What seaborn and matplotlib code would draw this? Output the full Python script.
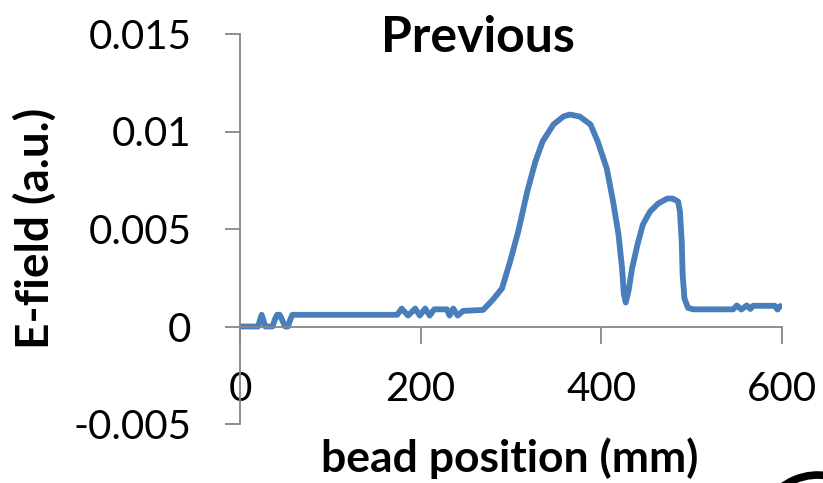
import numpy as np
import pandas as pd
import matplotlib
matplotlib.use("Agg")
import matplotlib.pyplot as plt
import seaborn as sns
from matplotlib.patches import Arc

pos_mm = [0, 20, 22, 24, 26, 28, 36, 39, 41, 44, 47, 50, 53, 56, 58,
          174, 179, 186, 194, 199, 205, 210, 215, 229, 232, 236, 241, 247, 269,
          271, 280, 290, 299, 308, 318, 327, 335, 347, 358, 365, 376, 388, 396,
          406, 413, 419, 423, 425, 427, 430, 434, 440, 446, 454, 463, 473, 479,
          485, 487, 489, 490, 492, 496, 502,
          546, 550, 555, 561, 565, 568, 592, 595, 598]
efield = [0, 0, 0.0003, 0.0006, 0.0003, 0, 0, 0.0004, 0.0006, 0.0006, 0.0003, 0, 0, 0.0004, 0.0006,
          0.0006, 0.00092, 0.00056, 0.00092, 0.00056, 0.00092, 0.00056, 0.00088, 0.00088, 0.00056, 0.00092, 0.00056, 0.0008, 0.00085,
          0.00094, 0.00138, 0.00195, 0.00333, 0.00487, 0.00692, 0.00846, 0.00949, 0.01036, 0.01077, 0.01087, 0.01077, 0.01036, 0.00949,
          0.0081, 0.00641, 0.00472, 0.00297, 0.00164, 0.00123, 0.0018, 0.00297, 0.0042, 0.00523, 0.0059, 0.00631, 0.00656, 0.00656,
          0.00641, 0.0059, 0.00436, 0.00267, 0.00144, 0.00095, 0.00088,
          0.00088, 0.00108, 0.00087, 0.00108, 0.0009, 0.00106, 0.00106, 0.00087, 0.00105]

df = pd.DataFrame({"pos": pos_mm, "field": efield})

sns.set_theme(style="white")
plt.rcParams["font.family"] = ["Lato", "DejaVu Sans"]

fig = plt.figure(figsize=(8.23, 4.83), dpi=100)
ax = fig.add_axes([240 / 823, 1 - 424 / 483, 542 / 823, 390 / 483])

sns.lineplot(data=df, x="pos", y="field", ax=ax, color="#4A7EBB",
             linewidth=4.2, estimator=None, sort=False)

ax.set_xlim(0, 600)
ax.set_ylim(-0.005, 0.015)
ax.set_xticks([0, 200, 400, 600])
ax.set_yticks([-0.005, 0, 0.005, 0.01, 0.015])
ax.set_yticklabels(["-0.005", "0", "0.005", "0.01", "0.015"])

grey = "#868686"
ax.spines["top"].set_visible(False)
ax.spines["right"].set_visible(False)
ax.spines["bottom"].set_position(("data", 0))
for s in ["left", "bottom"]:
    ax.spines[s].set_color(grey)
    ax.spines[s].set_linewidth(1.3)
ax.tick_params(axis="both", direction="out", color=grey, width=1.3,
               labelsize=29, labelcolor="black", bottom=True, left=True)
ax.tick_params(axis="x", length=12, pad=20)
ax.tick_params(axis="y", length=11, pad=24)

ax.set_xlabel("")
ax.set_ylabel("")
fig.text(478 / 823, 1 - 37 / 483, "Previous", ha="center", va="center",
         fontsize=36, fontweight="bold", color="black")
fig.text(35 / 823, 1 - 228 / 483, "E-field (a.u.)", ha="center", va="center",
         rotation=90, fontsize=33, fontweight="bold", color="black")
fig.text(510 / 823, 1 - 458 / 483, "bead position (mm)", ha="center", va="center",
         fontsize=32, fontweight="bold", color="black")

# cropped glyph edge in the bottom-right corner of the source image
fig.add_artist(Arc((818 / 823, 1 - 535 / 483), 120 / 823, 120 / 483, theta1=60, theta2=180,
                   transform=fig.transFigure, color="black", linewidth=5.5))

fig.savefig("out.png", dpi=100)
